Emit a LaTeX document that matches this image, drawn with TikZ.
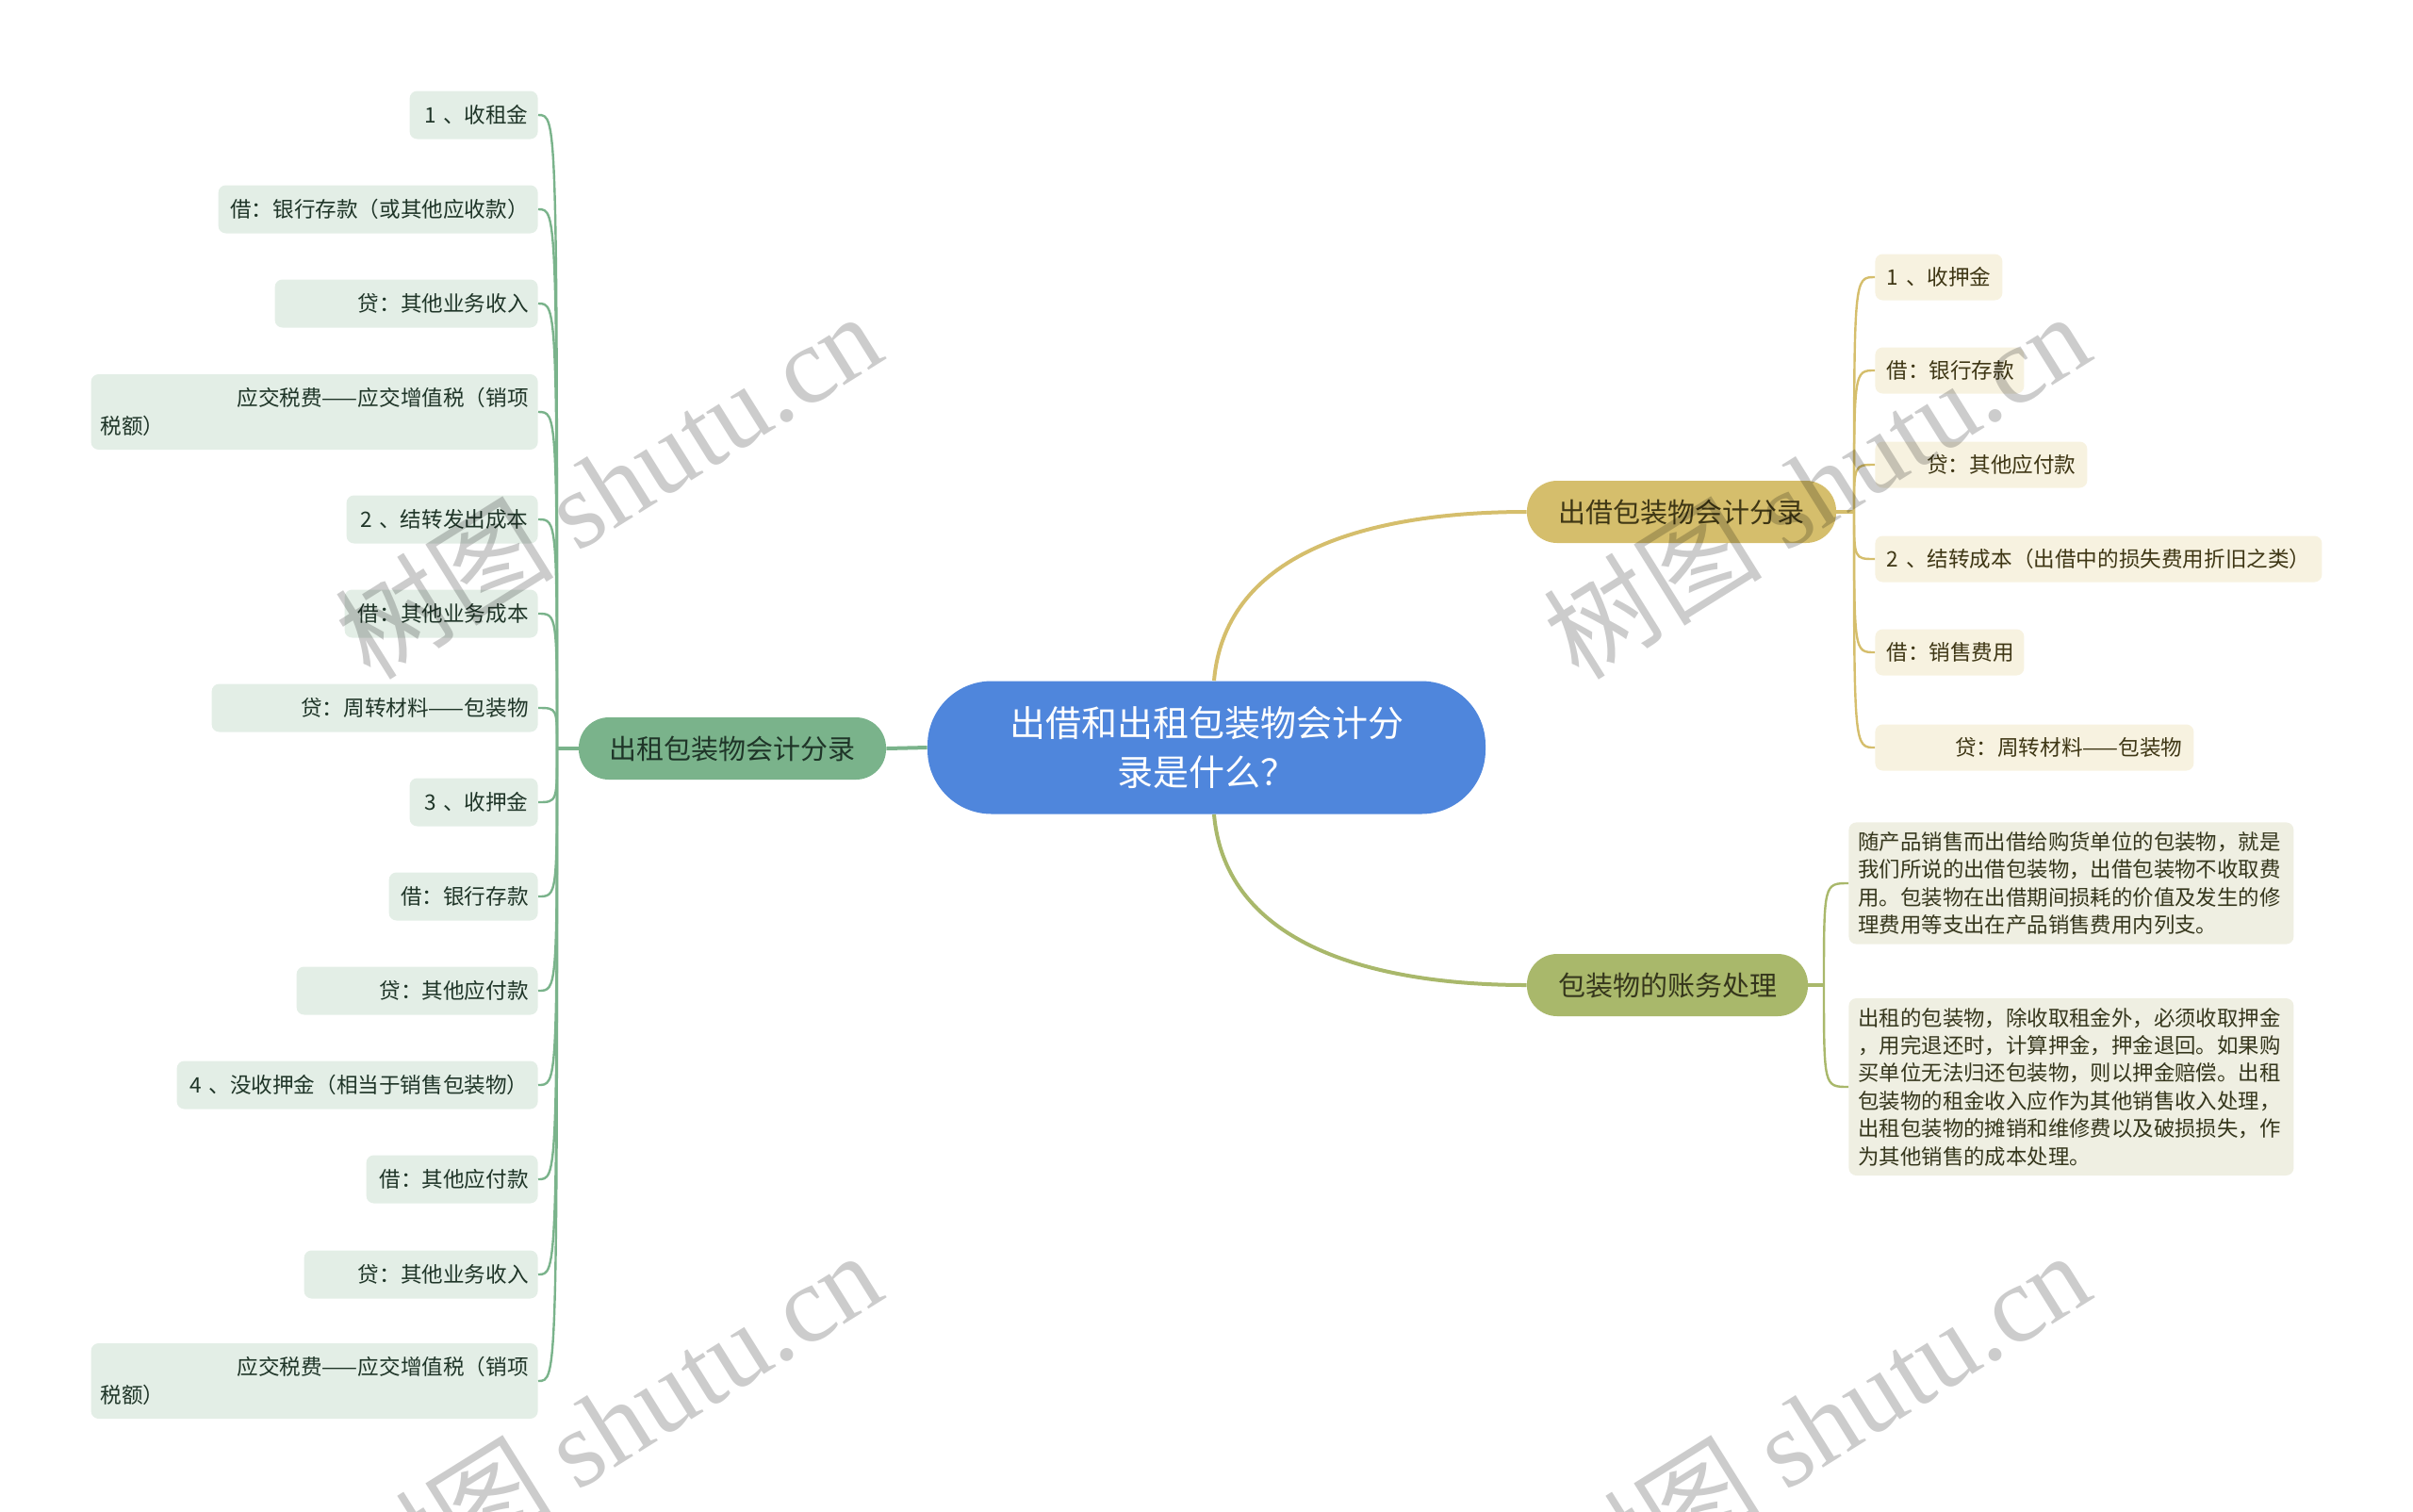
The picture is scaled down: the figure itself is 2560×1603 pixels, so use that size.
\documentclass[tikz,border=0pt]{standalone}
\usepackage{fontspec}
\setmainfont{Noto Sans CJK SC}
\newfontfamily\wmfont{Liberation Serif}
\usepackage{xcolor}
\usepackage{tikz}

\definecolor{rootblue}{HTML}{4F86DC}
\definecolor{rentgreen}{HTML}{7AB38B}
\definecolor{rentleaf}{HTML}{E3EEE6}
\definecolor{renttext}{HTML}{1F3528}
\definecolor{lendgold}{HTML}{D5BE6C}
\definecolor{lendleaf}{HTML}{F7F2E0}
\definecolor{lendtext}{HTML}{3E3614}
\definecolor{acctolive}{HTML}{A9B86B}
\definecolor{acctleaf}{HTML}{EFEFE2}
\definecolor{accttext}{HTML}{35361C}

\begin{document}
\begin{tikzpicture}[
    x=0.5pt, y=-0.5pt,
    root/.style={rectangle, fill=rootblue, rounded corners=34pt, minimum width=296pt, minimum height=70.5pt, align=center, text=white, font=\fontsize{19pt}{26pt}\selectfont},
    br/.style={rectangle, rounded corners=16pt, minimum height=33pt, inner sep=0pt, font=\fontsize{14.5pt}{18pt}\selectfont},
    lf1/.style={rectangle, fill=rentleaf, text=renttext, rounded corners=4pt, anchor=east, align=right, inner xsep=5pt, inner ysep=0pt, minimum height=25.5pt, font=\fontsize{11.3pt}{15pt}\selectfont},
    lf2/.style={rectangle, fill=lendleaf, text=lendtext, rounded corners=4pt, anchor=west, align=right, inner xsep=6pt, inner ysep=0pt, minimum height=24.5pt, font=\fontsize{11.3pt}{15pt}\selectfont},
    lf3/.style={rectangle, fill=acctleaf, text=accttext, rounded corners=4pt, anchor=west, align=left, text width=226pt, inner xsep=5pt, inner ysep=5pt, font=\fontsize{11.2pt}{14.7pt}\selectfont},
    ln1/.style={draw=rentgreen, line width=1.2pt},
    ln2/.style={draw=lendgold, line width=1.2pt},
    ln3/.style={draw=acctolive, line width=1.2pt},
    wm/.style={rotate=32, text=black, opacity=0.2, font=\fontsize{58pt}{58pt}\selectfont}
]
    \useasboundingbox (0,0) rectangle (2560,1603);

    \node [root] (root) at (1280,793) {出借和出租包装物会计分\\录是什么？};
    \node [br, fill=rentgreen, text=renttext, minimum width=163pt] (rent) at (777,794) {出租包装物会计分录};
    \node [br, fill=lendgold, text=lendtext, minimum width=164pt] (lend) at (1784,543) {出借包装物会计分录};
    \node [br, fill=acctolive, text=accttext, minimum width=149pt] (acct) at (1769,1045) {包装物的账务处理};

    \coordinate (rh) at (591,794);
    \coordinate (lh) at (1967,543);
    \coordinate (ah) at (1935,1045);

    \node [lf1, text width=58pt] (r1) at (571,122) {1~、收租金};
    \node [lf1, text width=159.5pt] (r2) at (571,222) {借：银行存款（或其他应收款）};
    \node [lf1, text width=129.5pt] (r3) at (571,322) {贷：其他业务收入};
    \node [lf1, text width=227pt, align=left, minimum height=40pt] (r4) at (571,437) {\hspace*{\fill}应交税费——应交增值税（销项\\税额）};
    \node [lf1, text width=91.5pt] (r5) at (571,551) {2~、结转发出成本};
    \node [lf1, text width=92.5pt] (r6) at (571,651) {借：其他业务成本};
    \node [lf1, text width=163pt] (r7) at (571,751) {贷：周转材料——包装物};
    \node [lf1, text width=58pt] (r8) at (571,851) {3~、收押金};
    \node [lf1, text width=69pt] (r9) at (571,951) {借：银行存款};
    \node [lf1, text width=118pt] (r10) at (571,1051) {贷：其他应付款};
    \node [lf1, text width=181.5pt] (r11) at (571,1151) {4~、没收押金（相当于销售包装物）};
    \node [lf1, text width=81pt] (r12) at (571,1251) {借：其他应付款};
    \node [lf1, text width=114pt] (r13) at (571,1352) {贷：其他业务收入};
    \node [lf1, text width=227pt, align=left, minimum height=40pt] (r14) at (571,1465) {\hspace*{\fill}应交税费——应交增值税（销项\\税额）};

    \node [lf2, text width=55.5pt] (l1) at (1989,294) {1~、收押金};
    \node [lf2, text width=67pt] (l2) at (1989,393) {借：银行存款};
    \node [lf2, text width=100.5pt] (l3) at (1989,493) {贷：其他应付款};
    \node [lf2, text width=225pt] (l4) at (1989,593) {2~、结转成本（出借中的损失费用折旧之类）};
    \node [lf2, text width=67pt] (l5) at (1989,692) {借：销售费用};
    \node [lf2, text width=157pt] (l6) at (1989,793) {贷：周转材料——包装物};

    \node [lf3] (a1) at (1961,937) {随产品销售而出借给购货单位的包装物，就是\\我们所说的出借包装物，出借包装物不收取费\\用。包装物在出借期间损耗的价值及发生的修\\理费用等支出在产品销售费用内列支。};
    \node [lf3] (a2) at (1961,1153) {出租的包装物，除收取租金外，必须收取押金\\，用完退还时，计算押金，押金退回。如果购\\买单位无法归还包装物，则以押金赔偿。出租\\包装物的租金收入应作为其他销售收入处理，\\出租包装物的摊销和维修费以及破损损失，作\\为其他销售的成本处理。};

    \draw [ln1, line width=2pt] (root.west) -- (rent.east);
    \draw [ln1, line width=2pt] (rent.west) -- (rh);
    \draw [ln2, line width=2pt] ([xshift=4pt]root.north) .. controls +(12,-140) and +(-160,0) .. (lend.west);
    \draw [ln3, line width=2pt] ([xshift=4pt]root.south) .. controls +(12,140) and +(-160,0) .. (acct.west);
    \draw [ln2, line width=2pt] (lend.east) -- (lh);
    \draw [ln3, line width=2pt] (acct.east) -- (ah);

    \draw [ln1] (rh) .. controls (rh |- r1.east) .. (r1.east);
    \draw [ln1] (rh) .. controls (rh |- r2.east) .. (r2.east);
    \draw [ln1] (rh) .. controls (rh |- r3.east) .. (r3.east);
    \draw [ln1] (rh) .. controls (rh |- r4.east) .. (r4.east);
    \draw [ln1] (rh) .. controls (rh |- r5.east) .. (r5.east);
    \draw [ln1] (rh) .. controls (rh |- r6.east) .. (r6.east);
    \draw [ln1] (rh) .. controls (rh |- r7.east) .. (r7.east);
    \draw [ln1] (rh) .. controls (rh |- r8.east) .. (r8.east);
    \draw [ln1] (rh) .. controls (rh |- r9.east) .. (r9.east);
    \draw [ln1] (rh) .. controls (rh |- r10.east) .. (r10.east);
    \draw [ln1] (rh) .. controls (rh |- r11.east) .. (r11.east);
    \draw [ln1] (rh) .. controls (rh |- r12.east) .. (r12.east);
    \draw [ln1] (rh) .. controls (rh |- r13.east) .. (r13.east);
    \draw [ln1] (rh) .. controls (rh |- r14.east) .. (r14.east);

    \draw [ln2] (lh) .. controls (lh |- l1.west) .. (l1.west);
    \draw [ln2] (lh) .. controls (lh |- l2.west) .. (l2.west);
    \draw [ln2] (lh) .. controls (lh |- l3.west) .. (l3.west);
    \draw [ln2] (lh) .. controls (lh |- l4.west) .. (l4.west);
    \draw [ln2] (lh) .. controls (lh |- l5.west) .. (l5.west);
    \draw [ln2] (lh) .. controls (lh |- l6.west) .. (l6.west);

    \draw [ln3] (ah) .. controls (ah |- a1.west) .. (a1.west);
    \draw [ln3] (ah) .. controls (ah |- a2.west) .. (a2.west);

    \node [wm] (wm1) at (645,514) {树图 {\wmfont shutu.cn}};
    \node [wm] (wm2) at (1927,514) {树图 {\wmfont shutu.cn}};
    \node [wm] (wm3) at (645,1510) {树图 {\wmfont shutu.cn}};
    \node [wm] (wm4) at (1927,1510) {树图 {\wmfont shutu.cn}};
\end{tikzpicture}
\end{document}
